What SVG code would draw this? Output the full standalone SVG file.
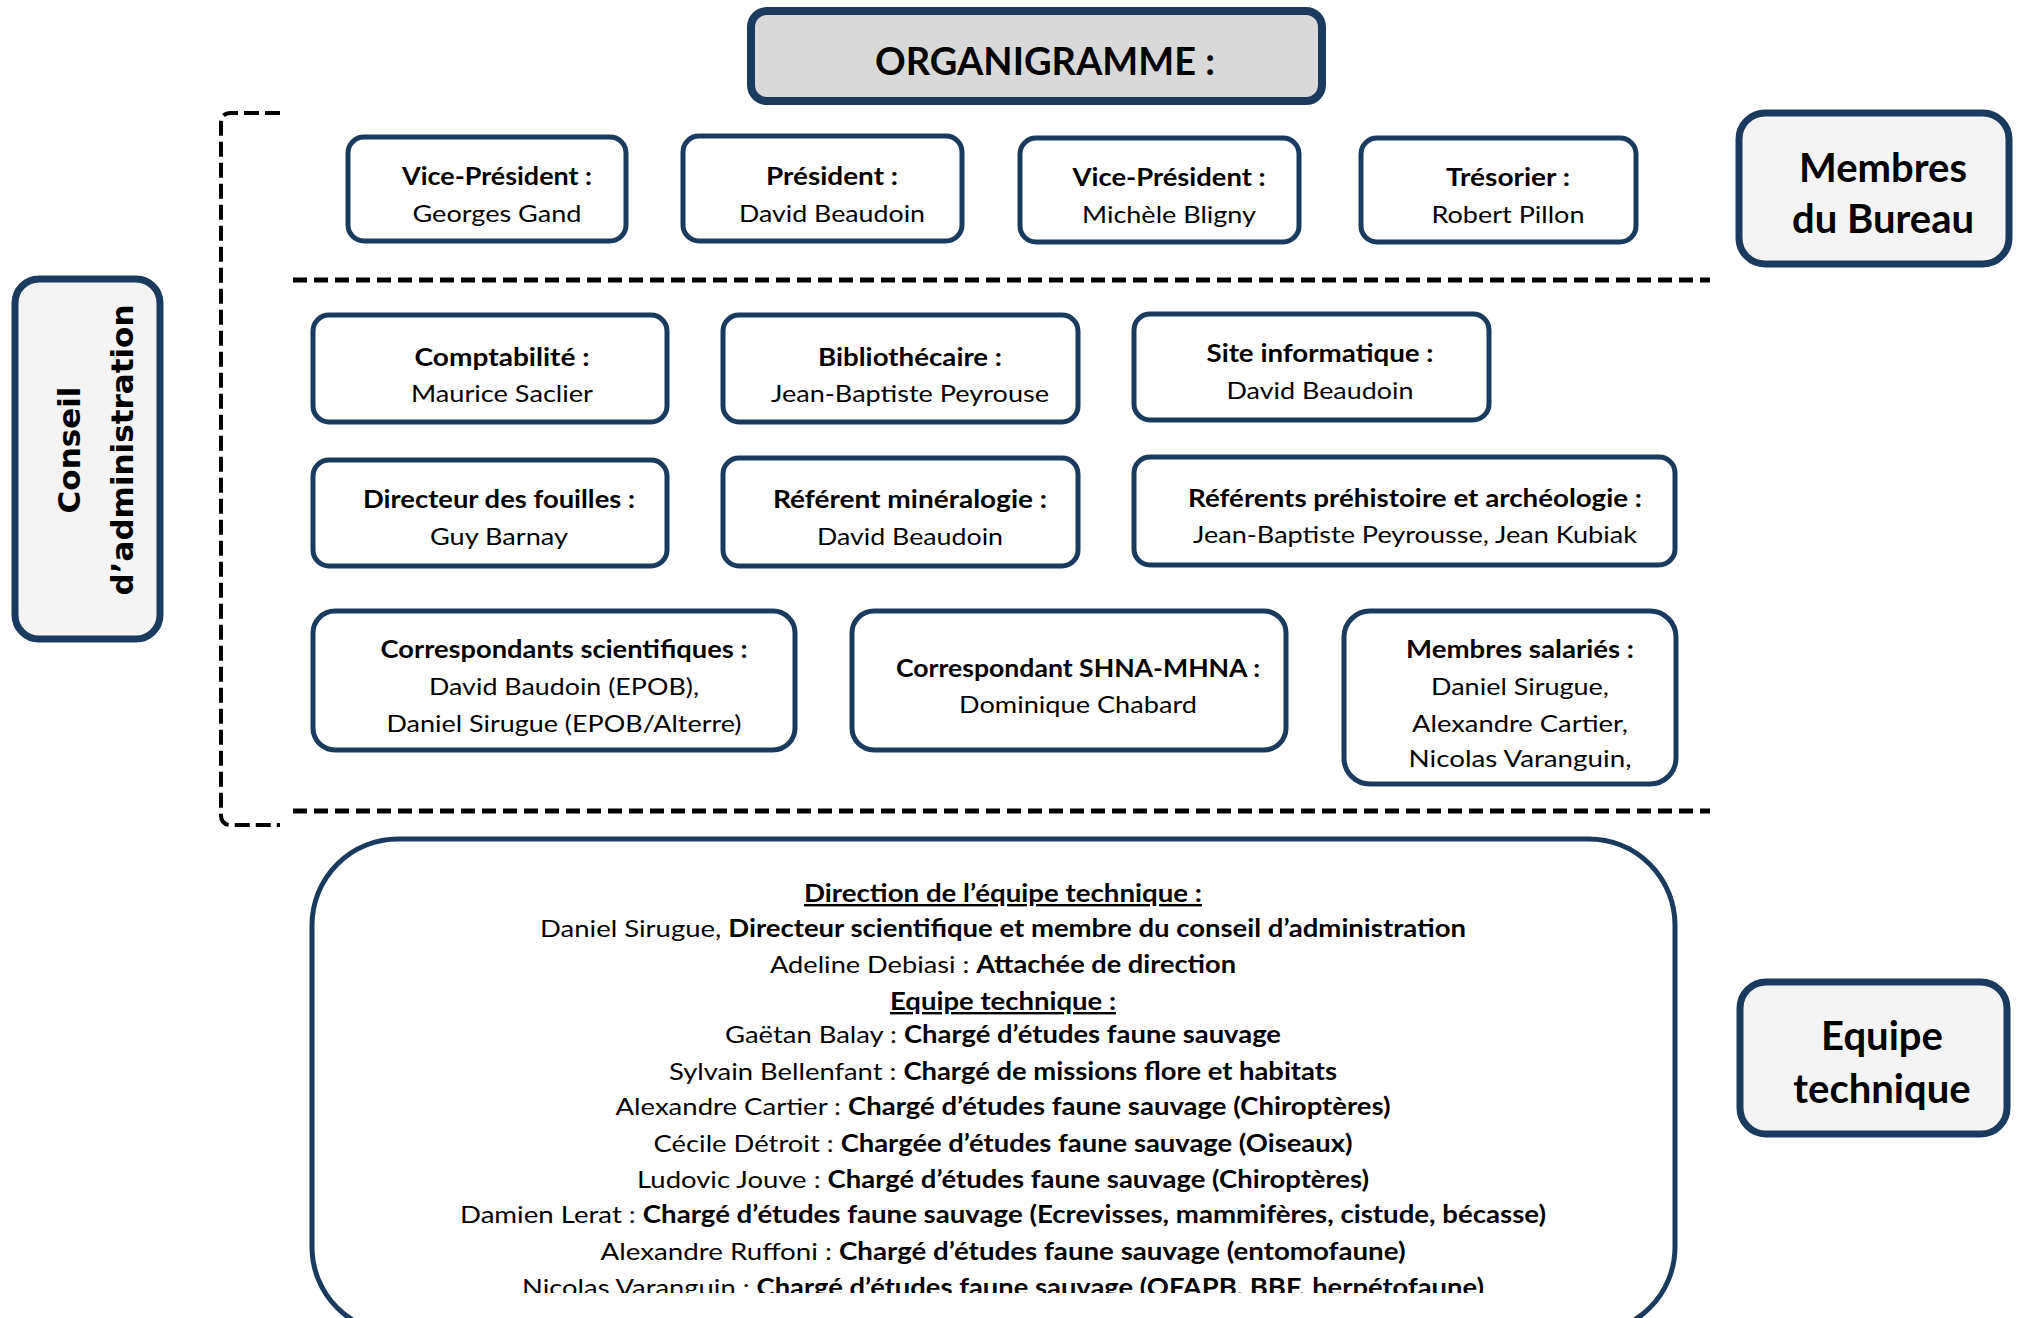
<svg xmlns="http://www.w3.org/2000/svg" width="2018" height="1318" viewBox="0 0 2018 1318">
  <style>
    text { font-family: Lato, "Open Sans", "Liberation Sans", sans-serif; fill: #000; text-anchor: middle; }
    .t { font-size: 24px; }
    .b { font-weight: bold; }
    .lbl { font-size: 40px; font-weight: bold; }
    .box { fill: #fff; stroke: #1c3a5e; stroke-width: 5; }
    .tag { fill: #f4f4f4; stroke: #1c3a5e; stroke-width: 7; }
    .dash { fill: none; stroke: #000; stroke-width: 5; stroke-dasharray: 14 7; }
    .brk { fill: none; stroke: #000; stroke-width: 4; stroke-dasharray: 15 6; }
    .u { text-decoration: underline; }
    .v { font-family: "DejaVu Sans", Verdana, sans-serif; font-size: 31px; font-weight: bold; }
  </style>
  <defs>
    <clipPath id="listClip">
      <rect x="0" y="0" width="2018" height="1293"/>
    </clipPath>
  </defs>
  <rect width="2018" height="1318" fill="#fff"/>

  <!-- title -->
  <g id="title">
    <rect x="751" y="11" width="571" height="90" rx="16" fill="#d9d9d9" stroke="#1c3a5e" stroke-width="8"/>
    <text x="1045" y="75" style="font-size:38px;font-weight:bold">ORGANIGRAMME :</text>
  </g>

  <!-- section separators and bracket -->
  <g id="connectors">
    <line class="dash" x1="293" y1="280" x2="1710" y2="280"/>
    <line class="dash" x1="293" y1="811" x2="1710" y2="811"/>
    <path class="brk" d="M280 113 H231 Q221 113 221 123 V815 Q221 825 231 825 H280"/>
  </g>

  <!-- side labels -->
  <g id="membres-bureau">
    <rect class="tag" x="1739" y="113" width="270" height="151" rx="26"/>
    <text class="lbl" x="1883" y="182">Membres</text>
    <text class="lbl" x="1883" y="233">du Bureau</text>
  </g>
  <g id="conseil">
    <rect class="tag" x="15" y="279" width="145" height="360" rx="24"/>
    <text class="v" transform="translate(80 450) rotate(-90)">Conseil</text>
    <text class="v" transform="translate(133 450) rotate(-90)">d’administration</text>
  </g>
  <g id="equipe-label">
    <rect class="tag" x="1740" y="982" width="267" height="152" rx="26"/>
    <text class="lbl" x="1882" y="1050">Equipe</text>
    <text class="lbl" x="1882" y="1103">technique</text>
  </g>

  <!-- bureau -->
  <g id="vp1">
    <rect class="box" x="348" y="137" width="278" height="104" rx="16"/>
    <text class="t b" x="497" y="185" textLength="190" lengthAdjust="spacingAndGlyphs">Vice-Président :</text>
    <text class="t" x="497" y="222" textLength="169" lengthAdjust="spacingAndGlyphs">Georges Gand</text>
  </g>
  <g id="president">
    <rect class="box" x="683" y="136" width="279" height="105" rx="16"/>
    <text class="t b" x="832" y="185" textLength="132" lengthAdjust="spacingAndGlyphs">Président :</text>
    <text class="t" x="832" y="222" textLength="186" lengthAdjust="spacingAndGlyphs">David Beaudoin</text>
  </g>
  <g id="vp2">
    <rect class="box" x="1020" y="138" width="279" height="104" rx="16"/>
    <text class="t b" x="1169" y="186" textLength="193" lengthAdjust="spacingAndGlyphs">Vice-Président :</text>
    <text class="t" x="1169" y="223" textLength="174" lengthAdjust="spacingAndGlyphs">Michèle Bligny</text>
  </g>
  <g id="tresorier">
    <rect class="box" x="1361" y="138" width="275" height="104" rx="16"/>
    <text class="t b" x="1508" y="186" textLength="124" lengthAdjust="spacingAndGlyphs">Trésorier :</text>
    <text class="t" x="1508" y="223" textLength="153" lengthAdjust="spacingAndGlyphs">Robert Pillon</text>
  </g>

  <!-- conseil d'administration -->
  <g id="comptabilite">
    <rect class="box" x="313" y="315" width="354" height="107" rx="16"/>
    <text class="t b" x="502" y="366" textLength="175" lengthAdjust="spacingAndGlyphs">Comptabilité :</text>
    <text class="t" x="502" y="402" textLength="182" lengthAdjust="spacingAndGlyphs">Maurice Saclier</text>
  </g>
  <g id="bibliothecaire">
    <rect class="box" x="723" y="315" width="355" height="107" rx="16"/>
    <text class="t b" x="910" y="366" textLength="184" lengthAdjust="spacingAndGlyphs">Bibliothécaire :</text>
    <text class="t" x="910" y="402" textLength="278" lengthAdjust="spacingAndGlyphs">Jean-Baptiste Peyrouse</text>
  </g>
  <g id="site">
    <rect class="box" x="1134" y="314" width="355" height="106" rx="16"/>
    <text class="t b" x="1320" y="362" textLength="227" lengthAdjust="spacingAndGlyphs">Site informatique :</text>
    <text class="t" x="1320" y="399" textLength="187" lengthAdjust="spacingAndGlyphs">David Beaudoin</text>
  </g>
  <g id="fouilles">
    <rect class="box" x="313" y="460" width="354" height="106" rx="16"/>
    <text class="t b" x="499" y="508" textLength="272" lengthAdjust="spacingAndGlyphs">Directeur des fouilles :</text>
    <text class="t" x="499" y="545" textLength="138" lengthAdjust="spacingAndGlyphs">Guy Barnay</text>
  </g>
  <g id="mineralogie">
    <rect class="box" x="723" y="458" width="355" height="108" rx="16"/>
    <text class="t b" x="910" y="508" textLength="274" lengthAdjust="spacingAndGlyphs">Référent minéralogie :</text>
    <text class="t" x="910" y="545" textLength="186" lengthAdjust="spacingAndGlyphs">David Beaudoin</text>
  </g>
  <g id="prehistoire">
    <rect class="box" x="1134" y="457" width="541" height="108" rx="16"/>
    <text class="t b" x="1415" y="507" textLength="454" lengthAdjust="spacingAndGlyphs">Référents préhistoire et archéologie :</text>
    <text class="t" x="1415" y="543" textLength="444" lengthAdjust="spacingAndGlyphs">Jean-Baptiste Peyrousse, Jean Kubiak</text>
  </g>
  <g id="correspondants">
    <rect class="box" x="313" y="611" width="482" height="139" rx="22"/>
    <text class="t b" x="564" y="658" textLength="367" lengthAdjust="spacingAndGlyphs">Correspondants scientifiques :</text>
    <text class="t" x="564" y="695" textLength="270" lengthAdjust="spacingAndGlyphs">David Baudoin (EPOB),</text>
    <text class="t" x="564" y="732" textLength="355" lengthAdjust="spacingAndGlyphs">Daniel Sirugue (EPOB/Alterre)</text>
  </g>
  <g id="shna">
    <rect class="box" x="852" y="611" width="434" height="139" rx="22"/>
    <text class="t b" x="1078" y="677" textLength="364" lengthAdjust="spacingAndGlyphs">Correspondant SHNA-MHNA :</text>
    <text class="t" x="1078" y="713" textLength="238" lengthAdjust="spacingAndGlyphs">Dominique Chabard</text>
  </g>
  <g id="salaries">
    <rect class="box" x="1344" y="611" width="332" height="173" rx="26"/>
    <text class="t b" x="1520" y="658" textLength="228" lengthAdjust="spacingAndGlyphs">Membres salariés :</text>
    <text class="t" x="1520" y="695" textLength="178" lengthAdjust="spacingAndGlyphs">Daniel Sirugue,</text>
    <text class="t" x="1520" y="732" textLength="216" lengthAdjust="spacingAndGlyphs">Alexandre Cartier,</text>
    <text class="t" x="1520" y="767" textLength="223" lengthAdjust="spacingAndGlyphs">Nicolas Varanguin,</text>
  </g>

  <!-- technical team -->
  <g id="equipe">
    <rect x="312" y="839" width="1363" height="494" rx="86" fill="#fff" stroke="#1c3a5e" stroke-width="5"/>
    <g clip-path="url(#listClip)">
      <text class="t b u" x="1003" y="902" textLength="398" lengthAdjust="spacingAndGlyphs">Direction de l’équipe technique :</text>
      <text class="t" x="1003" y="937" textLength="926" lengthAdjust="spacingAndGlyphs">Daniel Sirugue, <tspan class="b">Directeur scientifique et membre du conseil d’administration</tspan></text>
      <text class="t" x="1003" y="973" textLength="466" lengthAdjust="spacingAndGlyphs">Adeline Debiasi : <tspan class="b">Attachée de direction</tspan></text>
      <text class="t b u" x="1003" y="1010" textLength="226" lengthAdjust="spacingAndGlyphs">Equipe technique :</text>
      <text class="t" x="1003" y="1043" textLength="556" lengthAdjust="spacingAndGlyphs">Gaëtan Balay : <tspan class="b">Chargé d’études faune sauvage</tspan></text>
      <text class="t" x="1003" y="1080" textLength="668" lengthAdjust="spacingAndGlyphs">Sylvain Bellenfant : <tspan class="b">Chargé de missions flore et habitats</tspan></text>
      <text class="t" x="1003" y="1115" textLength="775" lengthAdjust="spacingAndGlyphs">Alexandre Cartier : <tspan class="b">Chargé d’études faune sauvage (Chiroptères)</tspan></text>
      <text class="t" x="1003" y="1152" textLength="699" lengthAdjust="spacingAndGlyphs">Cécile Détroit : <tspan class="b">Chargée d’études faune sauvage (Oiseaux)</tspan></text>
      <text class="t" x="1003" y="1188" textLength="732" lengthAdjust="spacingAndGlyphs">Ludovic Jouve : <tspan class="b">Chargé d’études faune sauvage (Chiroptères)</tspan></text>
      <text class="t" x="1003" y="1223" textLength="1086" lengthAdjust="spacingAndGlyphs">Damien Lerat : <tspan class="b">Chargé d’études faune sauvage (Ecrevisses, mammifères, cistude, bécasse)</tspan></text>
      <text class="t" x="1003" y="1260" textLength="805" lengthAdjust="spacingAndGlyphs">Alexandre Ruffoni : <tspan class="b">Chargé d’études faune sauvage (entomofaune)</tspan></text>
      <text class="t" x="1003" y="1296" textLength="962" lengthAdjust="spacingAndGlyphs">Nicolas Varanguin : <tspan class="b">Chargé d’études faune sauvage (OFAPB, BBF, herpétofaune)</tspan></text>
    </g>
  </g>
</svg>
